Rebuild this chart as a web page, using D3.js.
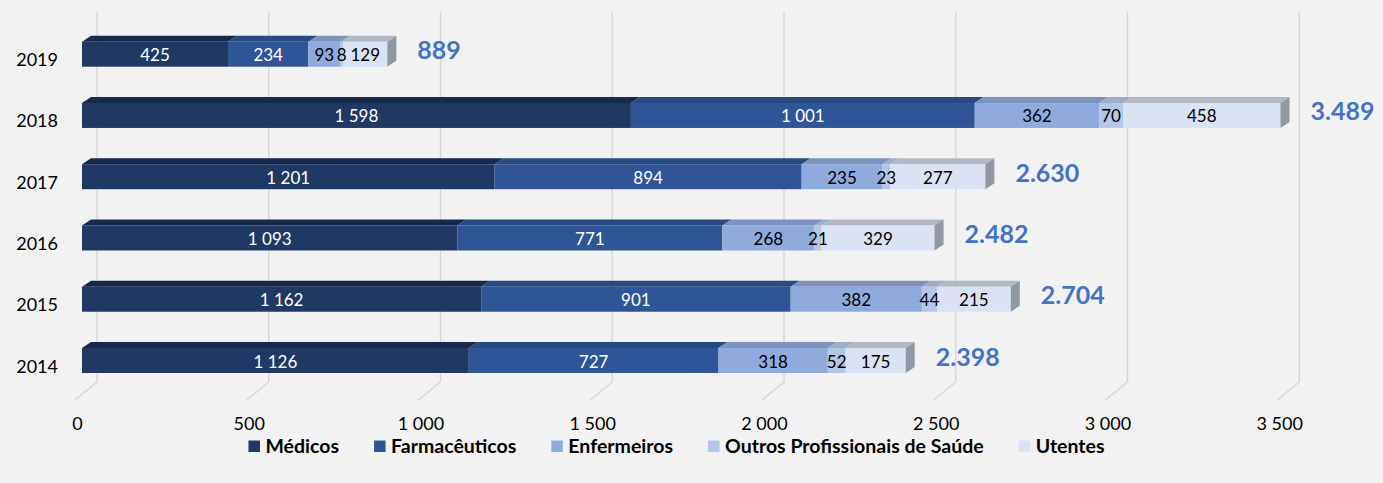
<!DOCTYPE html>
<html><head><meta charset="utf-8">
<script src="https://cdn.jsdelivr.net/npm/d3@7"></script>
<style>
body{margin:0;background:#f2f2f2}
svg{display:block}
text{font-family:Lato,'Open Sans',sans-serif}
</style></head>
<body><svg id="c" width="1383" height="483"></svg>
<script>
const years = ["2019","2018","2017","2016","2015","2014"];
const seriesNames = ["Médicos","Farmacêuticos","Enfermeiros","Outros Profissionais de Saúde","Utentes"];
const medicos = [425,1598,1201,1093,1162,1126];
const farmaceuticos = [234,1001,894,771,901,727];
const enfermeiros = [93,362,235,268,382,318];
const outros = [8,70,23,21,44,52];
const utentes = [129,458,277,329,215,175];
const xTicks = [0,500,1000,1500,2000,2500,3000,3500];
const frontColors = ["#203864","#2f5597","#8faadc","#b4c7e7","#dae3f3"];
const topColors = ["#17294a","#284a82","#7d93bd","#9eadc8","#b2b9c4"];
const sideColor = "#8f98a3";

const seriesValues = [medicos,farmaceuticos,enfermeiros,outros,utentes];
const rows = years.map((y,i)=>{const r={year:y}; seriesNames.forEach((s,k)=>r[s]=seriesValues[k][i]); return r;});
const stacked = d3.stack().keys(seriesNames)(rows);

const spaceLoc = d3.formatLocale({decimal:",",thousands:"\u00a0",grouping:[3],currency:["","€"]});
const dotLoc = d3.formatLocale({decimal:",",thousands:".",grouping:[3],currency:["","€"]});
const fmt = v => spaceLoc.format(",d")(v).replace(/\u00a0/g," ");
const fmtTot = dotLoc.format(",d");

const svg = d3.select("#c");
svg.append("rect").attr("width",1383).attr("height",483).attr("fill","#f2f2f2");

const x = d3.scaleLinear().domain([0,3500]).range([82,82+3500*0.3435]);
const y = d3.scalePoint().domain(years).range([54.2,360.5]);
const H = 25, DX = 9, DY = -6;
const WALL = 15, FLOOR = -7, yBack = 382, yFront = 400, yTop = 12;

// gridlines (back wall + floor)
const g = svg.append("g");
xTicks.forEach(t=>{
  g.append("path")
   .attr("d",`M${x(t)+WALL},${yTop}L${x(t)+WALL},${yBack}L${x(t)+FLOOR},${yFront}`)
   .attr("fill","none").attr("stroke","#d6d6d6").attr("stroke-width",1.4);
});

// x tick labels
svg.append("g").selectAll("text").data(xTicks).join("text")
  .attr("x",t=>x(t)-4.5).attr("y",429.5).attr("text-anchor","middle")
  .attr("font-size",18).attr("fill","#000").text(t=>fmt(t));

// y labels
svg.append("g").selectAll("text").data(years).join("text")
  .attr("x",58).attr("y",d=>y(d)+12).attr("text-anchor","end")
  .attr("font-size",18).attr("fill","#000").text(d=>d);

// bars
const bars = svg.append("g");
years.forEach((yr,i)=>{
  const yc = y(yr), yt = yc-H/2, yb = yc+H/2;
  stacked.forEach((s,k)=>{
    const x0 = x(s[i][0]), x1 = x(s[i][1]);
    bars.append("path")
      .attr("d",`M${x0},${yt}L${x1},${yt}L${x1+DX},${yt+DY}L${x0+DX},${yt+DY}Z`)
      .attr("fill",topColors[k]);
  });
  stacked.forEach((s,k)=>{
    const x0 = x(s[i][0]), x1 = x(s[i][1]);
    bars.append("rect").attr("x",x0).attr("y",yt).attr("width",x1-x0).attr("height",H)
      .attr("fill",frontColors[k]);
  });
  const last = stacked[stacked.length-1][i][1];
  const xe = x(last);
  bars.append("path")
    .attr("d",`M${xe},${yt}L${xe+DX},${yt+DY}L${xe+DX},${yb+DY}L${xe},${yb}Z`)
    .attr("fill",sideColor);
  stacked.forEach((s,k)=>{
    const x0 = x(s[i][0]), x1 = x(s[i][1]);
    bars.append("text").attr("x",(x0+x1)/2).attr("y",yc+7).attr("text-anchor","middle")
      .attr("font-size",17).attr("fill",k<2?"#ffffff":"#000000")
      .text(fmt(s[i][1]-s[i][0]));
  });
  bars.append("text").attr("x",xe+30).attr("y",yc+5)
    .attr("font-size",25).attr("font-weight","bold").attr("fill","#4472c4")
    .text(fmtTot(last));
});

// legend
const lg = svg.append("g");
let cx = 0;
const GAP = 35;
seriesNames.forEach((n,k)=>{
  const it = lg.append("g").attr("transform",`translate(${cx},0)`);
  it.append("rect").attr("x",0).attr("y",-12.5).attr("width",11.5).attr("height",11.5).attr("fill",frontColors[k]);
  const t = it.append("text").attr("x",17).attr("y",0).attr("font-size",19.5).attr("font-weight","bold")
    .attr("fill","#000").text(n);
  cx += 17 + t.node().getComputedTextLength() + GAP;
});
const totalW = cx - GAP;
lg.attr("transform",`translate(${676.5-totalW/2},453)`);
</script>
</body></html>
